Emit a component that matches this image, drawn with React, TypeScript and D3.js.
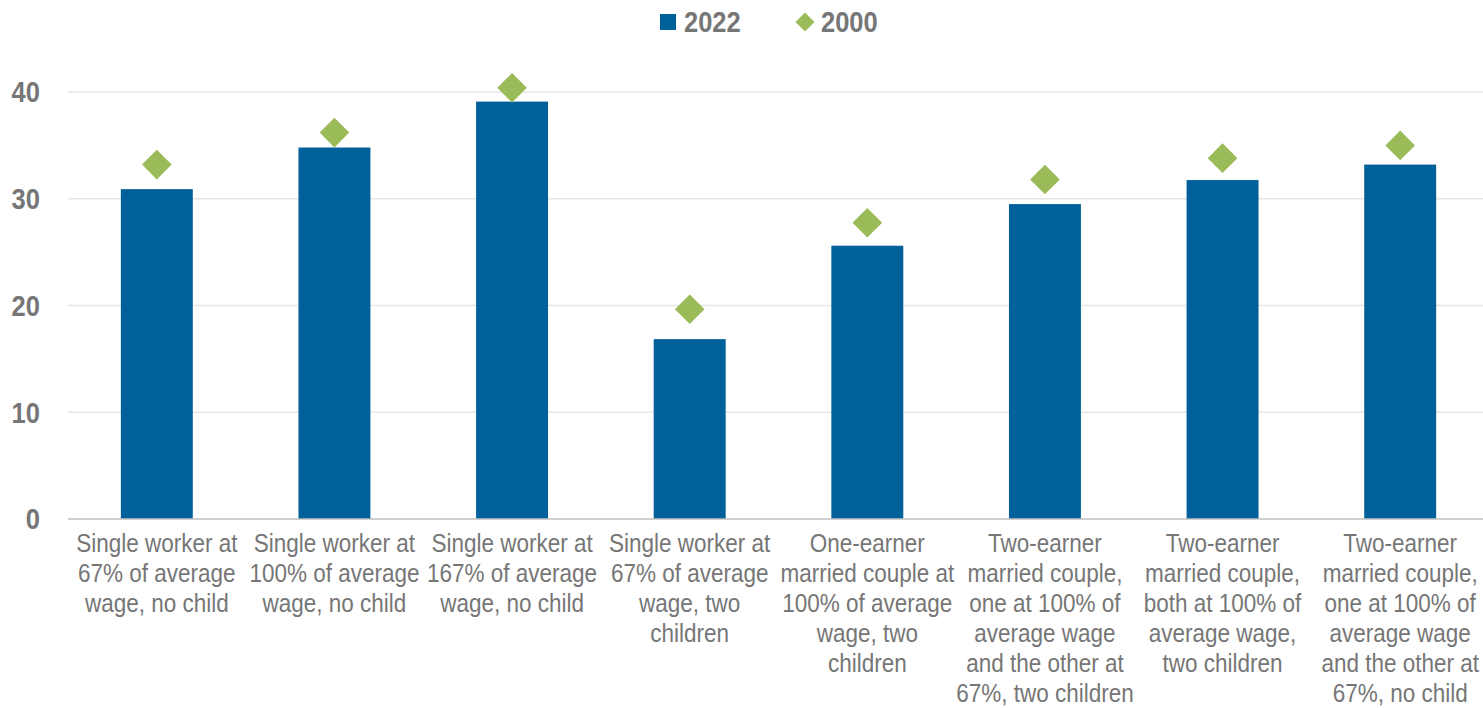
import React from "react";
import * as d3 from "d3";

const categories: string[][] = [
  ["Single worker at", "67% of average", "wage, no child"],
  ["Single worker at", "100% of average", "wage, no child"],
  ["Single worker at", "167% of average", "wage, no child"],
  ["Single worker at", "67% of average", "wage, two", "children"],
  ["One-earner", "married couple at", "100% of average", "wage, two", "children"],
  ["Two-earner", "married couple,", "one at 100% of", "average wage", "and the other at", "67%, two children"],
  ["Two-earner", "married couple,", "both at 100% of", "average wage,", "two children"],
  ["Two-earner", "married couple,", "one at 100% of", "average wage", "and the other at", "67%, no child"],
];
const values2022: number[] = [30.9, 34.8, 39.1, 16.85, 25.6, 29.5, 31.75, 33.2];
const values2000: number[] = [33.2, 36.2, 40.4, 19.65, 27.75, 31.8, 33.8, 35.0];
const yTicks: number[] = [0, 10, 20, 30, 40];

const W = 1483;
const H = 708;
const FONT = "'Liberation Sans', Arial, sans-serif";
const BAR = "#00609A";
const DIAM = "#9BBB59";
const TXT = "#767676";

export default function App() {
  const idx = categories.map((_, i) => String(i));
  const x = d3.scaleBand<string>().domain(idx).range([68, 1489]).paddingInner(0.595).paddingOuter(0.2975);
  const y = d3.scaleLinear().domain([0, 40]).range([519, 92]);
  const diamond = d3.symbol().type(d3.symbolDiamond2).size(560)();
  const legendDiamond = d3.symbol().type(d3.symbolDiamond2).size(230)();

  return (
    <svg width={W} height={H} style={{ position: "absolute", left: 0, top: 0, background: "#fff" }}>
      {yTicks.map((t) => (
        <g key={t}>
          {t > 0 && <line x1={68} x2={W} y1={y(t)} y2={y(t)} stroke="#e6e6e6" strokeWidth={1.5} />}
          <text transform={`translate(40,${y(t)}) scale(0.88,1)`} dy="0.36em" textAnchor="end" fontFamily={FONT} fontWeight="bold" fontSize={29} fill={TXT}>
            {t}
          </text>
        </g>
      ))}
      {values2022.map((v, i) => (
        <rect key={i} x={x(String(i))} y={y(v)} width={x.bandwidth()} height={y(0) - y(v)} fill={BAR} />
      ))}
      <line x1={68} x2={W} y1={y(0)} y2={y(0)} stroke="#bfbfbf" strokeWidth={1.5} />
      {values2000.map((v, i) => (
        <path key={i} d={diamond || ""} transform={`translate(${x(String(i))! + x.bandwidth() / 2},${y(v)})`} fill={DIAM} />
      ))}
      {categories.map((lines, i) => (
        <text key={i} transform={`translate(${x(String(i))! + x.bandwidth() / 2},0) scale(0.9,1)`} textAnchor="middle" fontFamily={FONT} fontSize={25} fill={TXT}>
          {lines.map((l, j) => (
            <tspan key={j} x={0} y={552 + j * 30}>
              {l}
            </tspan>
          ))}
        </text>
      ))}
      <g>
        <rect x={660} y={14} width={16} height={16} fill={BAR} />
        <text transform="translate(684,22) scale(0.88,1)" dy="0.36em" fontFamily={FONT} fontWeight="bold" fontSize={29} fill={TXT}>2022</text>
        <path d={legendDiamond || ""} transform="translate(805,22)" fill={DIAM} />
        <text transform="translate(821,22) scale(0.88,1)" dy="0.36em" fontFamily={FONT} fontWeight="bold" fontSize={29} fill={TXT}>2000</text>
      </g>
    </svg>
  );
}
